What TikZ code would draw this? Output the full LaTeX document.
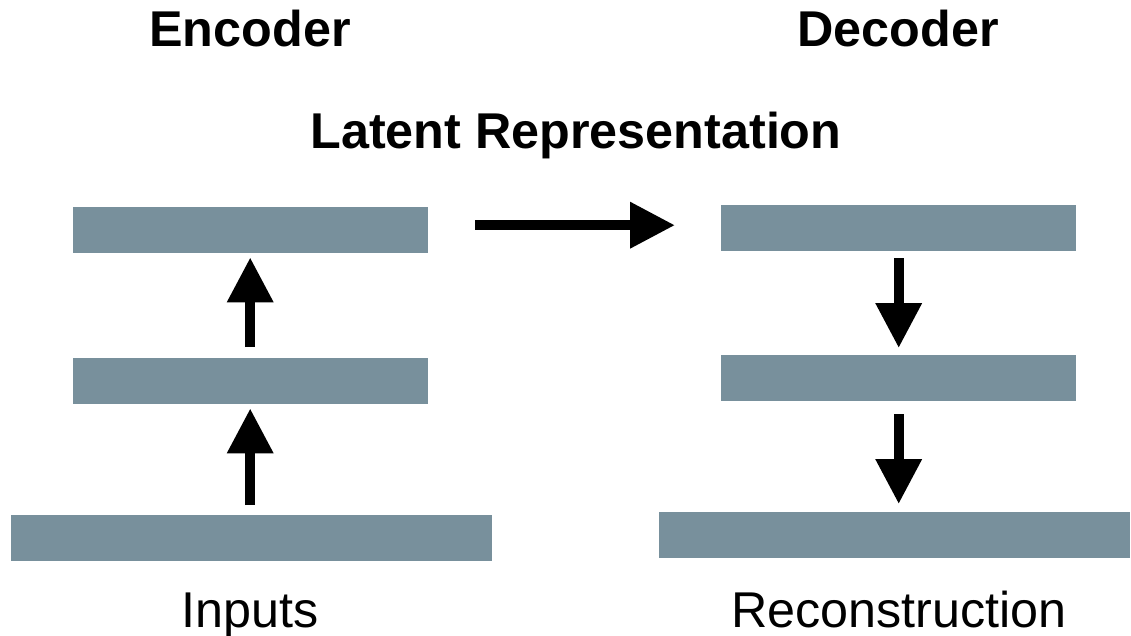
\documentclass[tikz,border=0pt]{standalone}
\usepackage{fontspec}
\setmainfont{Liberation Sans}
\usetikzlibrary{arrows.meta}
\definecolor{barcol}{RGB}{120,144,156}
\tikzset{
  bar/.style={fill=barcol, draw=none, inner sep=0pt, anchor=north west},
  bigarrow/.style={line width=10pt, -{Triangle[length=45pt,width=44pt]}},
  boldlabel/.style={inner sep=0pt, anchor=base, font=\fontsize{50.3}{58}\selectfont\bfseries},
  plainlabel/.style={inner sep=0pt, anchor=base, font=\fontsize{50.3}{58}\selectfont}
}
\begin{document}
\begin{tikzpicture}[x=1pt,y=-1pt]
\useasboundingbox[fill=white] (0,0) rectangle (1131,636);
% encoder bars
\node[bar, minimum width=355pt, minimum height=46pt] (e3) at (73,207) {};
\node[bar, minimum width=355pt, minimum height=46pt] (e2) at (73,358) {};
\node[bar, minimum width=481pt, minimum height=46pt] (e1) at (11,515) {};
% decoder bars
\node[bar, minimum width=355pt, minimum height=46pt] (d1) at (721,205) {};
\node[bar, minimum width=355pt, minimum height=46pt] (d2) at (721,355) {};
\node[bar, minimum width=471pt, minimum height=46pt] (d3) at (659,512) {};
% labels
\node[boldlabel] (enc) at (250,47) {Encoder};
\node[boldlabel] (dec) at (898,47) {Decoder};
\node[boldlabel] (lat) at (576,149) {Latent Representation};
\node[plainlabel] (inp) at (250,627) {Inputs};
\node[plainlabel] (rec) at (899,627) {Reconstruction};
% arrows
\draw[bigarrow, shorten <=10pt, shorten >=4pt] ([xshift=-0.5pt]e1.north -| e2.north) -- ([xshift=-0.5pt]e2.south);
\draw[bigarrow, shorten <=11pt, shorten >=4pt] ([xshift=-0.5pt]e2.north) -- ([xshift=-0.5pt]e3.south);
\draw[bigarrow, shorten <=7pt, shorten >=7pt] (d1.south) -- (d2.north);
\draw[bigarrow, shorten <=13pt, shorten >=8pt] (d2.south) -- (d2.south |- d3.north);
\draw[bigarrow] ([shift={(47,-5)}]e3.east) -- ([shift={(-46,-3)}]d1.west);
\end{tikzpicture}
\end{document}
